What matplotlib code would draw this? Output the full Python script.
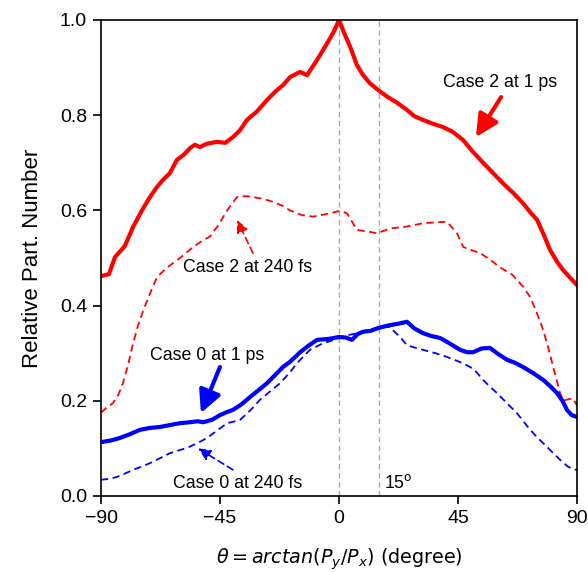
import matplotlib
matplotlib.use("Agg")
import matplotlib.pyplot as plt
import numpy as np

plt.rcParams['font.family'] = ['Liberation Sans', 'DejaVu Sans']
plt.rcParams['mathtext.fontset'] = 'dejavusans'

# Case 2 at 1 ps (red solid)
c2_1ps_theta = [-90, -87, -84.7, -81, -77.9, -74.5, -71.5, -69, -66.6, -64, -61.3, -58.5, -56.3, -54.5, -52.6,
                -50, -46.1, -43, -40.1, -37.5, -34.8, -31, -27.2, -24, -21.2, -18.5, -14.7, -12.1, -8.3, -4.5,
                -2, 0, 2, 4.2, 6.8, 9, 11.7, 15, 18.2, 22, 25.7, 28.5, 31.8, 35.5, 39.4, 43, 46.9,
                50.5, 54.5, 58, 62, 66, 69.6, 72.5, 74.9, 77.5, 79.8, 82.5, 84.7, 87.5, 90]
c2_1ps_val = [0.462, 0.466, 0.502, 0.525, 0.565, 0.600, 0.628, 0.648, 0.664, 0.678, 0.706, 0.718, 0.731, 0.738, 0.733,
              0.740, 0.744, 0.742, 0.754, 0.768, 0.790, 0.808, 0.832, 0.850, 0.863, 0.880, 0.891, 0.884, 0.916, 0.951,
              0.975, 1.0, 0.972, 0.944, 0.905, 0.885, 0.867, 0.852, 0.839, 0.826, 0.811, 0.798, 0.790, 0.782, 0.775, 0.765, 0.748,
              0.724, 0.700, 0.680, 0.657, 0.636, 0.615, 0.595, 0.580, 0.548, 0.517, 0.492, 0.475, 0.458, 0.443]

# Case 2 at 240 fs (red dashed)
c2_240_theta = [-90, -88, -85.5, -83.5, -81.7, -79.8, -77.9, -76, -74, -71.5, -68.8, -65, -60.1, -55.2, -52, -48.8,
                -45.5, -42.3, -38.6, -35.5, -32.5, -28.5, -25, -21.5, -18.5, -14, -9.8, -5, 0.4, 3, 6.8, 10.5,
                14.4, 19.3, 25.5, 31.8, 36.5, 40.9, 44.6, 47, 53.4, 57, 61, 65.5, 69.6, 72.3, 74.8, 77.2, 79.2,
                81, 83.6, 84.8, 86.5, 88.5, 90]
c2_240_val = [0.175, 0.185, 0.195, 0.212, 0.237, 0.275, 0.320, 0.358, 0.390, 0.425, 0.460, 0.480, 0.500, 0.523, 0.535, 0.545,
              0.570, 0.600, 0.628, 0.630, 0.628, 0.624, 0.618, 0.610, 0.600, 0.590, 0.587, 0.592, 0.599, 0.594, 0.559, 0.556,
              0.552, 0.562, 0.566, 0.573, 0.575, 0.576, 0.552, 0.523, 0.510, 0.497, 0.480, 0.465, 0.440, 0.418, 0.385, 0.349, 0.310,
              0.271, 0.216, 0.200, 0.203, 0.205, 0.190]

# Case 0 at 1 ps (blue solid)
c0_1ps_theta = [-90, -86, -82.8, -79, -75.3, -71.5, -67.7, -64, -60.1, -56.3, -53.5, -51.4, -48, -45, -42.5, -40.1,
                -37, -33.6, -30.5, -27.2, -24, -21.2, -18.5, -14.7, -11.5, -8.3, -4, 0, 2.5, 4.9, 7, 9.1, 12,
                14.8, 17, 19.3, 22.5, 25.7, 28.5, 31.8, 35, 38.2, 42, 45.8, 48.5, 50.7, 54, 57.1, 60.5, 63.6,
                66.5, 69.6, 73.5, 77.2, 80, 82.5, 84.5, 86.2, 88, 90]
c0_1ps_val = [0.113, 0.117, 0.122, 0.130, 0.139, 0.143, 0.145, 0.149, 0.153, 0.155, 0.157, 0.155, 0.160, 0.170, 0.176, 0.181,
              0.192, 0.208, 0.222, 0.237, 0.255, 0.271, 0.282, 0.302, 0.316, 0.328, 0.330, 0.334, 0.333, 0.328, 0.340, 0.345, 0.347,
              0.353, 0.356, 0.359, 0.362, 0.366, 0.352, 0.342, 0.336, 0.332, 0.320, 0.307, 0.302, 0.302, 0.310, 0.311, 0.297, 0.286,
              0.280, 0.271, 0.258, 0.244, 0.230, 0.216, 0.200, 0.181, 0.170, 0.166]

# Case 0 at 240 fs (blue dashed)
c0_240_theta = [-90, -87, -84, -81, -77.9, -74.5, -71.5, -67.5, -63.9, -60.5, -57.5, -53.5, -49.9, -46, -42.3, -40,
                -37.4, -33.5, -29.9, -26, -22.3, -18.5, -15.9, -11, -6, -3, 0, 3.5, 6.8, 10.5, 14.4, 17, 19.3,
                21, 23.1, 25.7, 28.5, 31.8, 36.5, 40.9, 45.5, 49.6, 52, 54.5, 57, 59.8, 63.5, 67.3, 70, 72.3,
                75.5, 78.7, 81, 83.6, 86.5, 88.5, 90]
c0_240_val = [0.034, 0.036, 0.040, 0.047, 0.055, 0.062, 0.069, 0.080, 0.090, 0.096, 0.101, 0.111, 0.122, 0.138, 0.153, 0.156,
              0.160, 0.180, 0.202, 0.220, 0.237, 0.260, 0.279, 0.307, 0.321, 0.326, 0.332, 0.338, 0.342, 0.348, 0.353, 0.355, 0.355,
              0.345, 0.334, 0.317, 0.312, 0.307, 0.300, 0.292, 0.282, 0.271, 0.260, 0.244, 0.230, 0.216, 0.195, 0.174, 0.155, 0.139,
              0.120, 0.103, 0.090, 0.076, 0.062, 0.056, 0.055]

x_ticks = [-90, -45, 0, 45, 90]
y_ticks = [0.0, 0.2, 0.4, 0.6, 0.8, 1.0]
vlines = [0, 15]

fig = plt.figure(figsize=(5.88, 5.73), dpi=100)
ax = fig.add_axes([101/588, 1-496/573, 476/588, 476/573])

red = '#ff0000'
blue = '#0000ff'
dash = (0, (4, 2.5))
ax.plot(c2_1ps_theta, c2_1ps_val, color=red, lw=3.0, solid_joinstyle='round')
ax.plot(c2_240_theta, c2_240_val, color=red, lw=1.3, ls=dash)
ax.plot(c0_1ps_theta, c0_1ps_val, color=blue, lw=3.0, solid_joinstyle='round')
ax.plot(c0_240_theta, c0_240_val, color=blue, lw=1.3, ls=dash)

for v in vlines:
    ax.axvline(v, color='#aaaaaa', lw=1.0, ls=dash, zorder=0)

ax.set_xlim(-90, 90)
ax.set_ylim(0, 1.0)
ax.set_xticks(x_ticks)
ax.set_xticklabels(['\u221290', '\u221245', '0', '45', '90'])
ax.set_yticks(y_ticks)
ax.set_yticklabels([f'{v:.1f}' for v in y_ticks])
ax.tick_params(axis='both', labelsize=14, direction='out', length=6, width=1.2, pad=4)
for s in ax.spines.values():
    s.set_linewidth(1.2)

ax.set_ylabel('Relative Part. Number', fontsize=16, labelpad=12)
ax.set_xlabel(r'$\theta = arctan(P_y/P_x)$ (degree)', fontsize=13.8, family='DejaVu Sans', labelpad=14)

fs = 12.8
thick = dict(arrowstyle='-|>,head_length=0.9,head_width=0.45', lw=3, shrinkA=0, shrinkB=0, mutation_scale=15)
thin = dict(arrowstyle='-|>,head_length=0.75,head_width=0.35', lw=1.2, ls=dash, shrinkA=0, shrinkB=0, mutation_scale=10)

ax.text(61, 0.868, 'Case 2 at 1 ps', fontsize=fs, ha='center', va='center')
ax.annotate('', xy=(51.8, 0.754), xytext=(61.3, 0.838), arrowprops=dict(color=red, **thick))

ax.text(-34.4, 0.479, 'Case 2 at 240 fs', fontsize=fs, ha='center', va='center')
ax.annotate('', xy=(-38.6, 0.58), xytext=(-32.5, 0.51), arrowprops=dict(color=red, **thin))

ax.text(-49.9, 0.296, 'Case 0 at 1 ps', fontsize=fs, ha='center', va='center')
ax.annotate('', xy=(-52.2, 0.174), xytext=(-45, 0.271), arrowprops=dict(color=blue, **thick))

ax.text(-38.2, 0.027, 'Case 0 at 240 fs', fontsize=fs, ha='center', va='center')
ax.annotate('', xy=(-53.3, 0.10), xytext=(-40.1, 0.055), arrowprops=dict(color=blue, **thin))

ax.text(17.2, 0.027, r'15$^{\mathrm{o}}$', fontsize=fs, ha='left', va='center')

fig.savefig('out.png', dpi=100)
